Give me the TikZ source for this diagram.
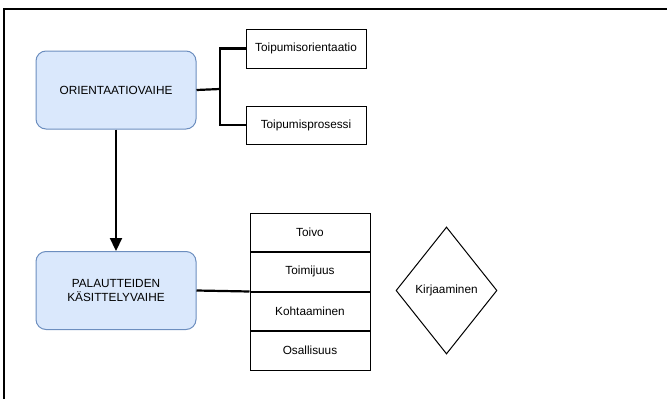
\documentclass[tikz,border=0pt]{standalone}
\usepackage{fontspec}
\setmainfont{Liberation Sans}
\usetikzlibrary{shapes.geometric,arrows.meta}
\definecolor{bluefill}{HTML}{DAE8FC}
\definecolor{bluedraw}{HTML}{6C8EBF}
\begin{document}
\begin{tikzpicture}[x=1pt,y=-1pt,
  txt/.style={font=\fontsize{11.8}{14.5}\selectfont},
  phase/.style={txt,draw=bluedraw,fill=bluefill,rounded corners=10pt,minimum width=160pt,minimum height=78pt,align=center,line width=1pt},
  sub/.style={txt,draw,fill=white,minimum width=120pt,minimum height=38.5pt,line width=1pt},
  conn/.style={line width=2.2pt}]
\useasboundingbox (0,0) rectangle (667,399);
\clip (0,0) rectangle (667,399);
\draw[line width=1.5pt] (4,9) rectangle (690,420);
\node[phase] (orient) at (116,90) {ORIENTAATIOVAIHE};
\node[phase] (pal) at (116,290.5) {PALAUTTEIDEN\\KÄSITTELYVAIHE};
\node[sub,minimum height=39pt] (to) at (306,48.5) {Toipumisorientaatio};
\node[sub,minimum height=38pt] (tp) at (306,125) {Toipumisprosessi};
\node[sub] (r1) at (310,232.25) {Toivo};
\node[sub,anchor=north] (r2) at (r1.south) {Toimijuus};
\node[sub,anchor=north] (r3) at (r2.south) {Kohtaaminen};
\node[sub,anchor=north] (r4) at (r3.south) {Osallisuus};
\node[txt,diamond,draw,line width=1pt,minimum width=101pt,minimum height=127pt,inner sep=0pt] (kir) at (446.5,290.5) {Kirjaaminen};
\coordinate (j) at (220,89);
\draw[conn] (orient.east) -- (j);
\draw[conn] (j) |- (to.west);
\draw[conn] (j) |- (tp.west);
\draw[conn,-{Triangle[width=12pt,length=13pt]}] (orient.south) -- (pal.north);
\draw[conn] (pal.east) -- (r2.south west);
\end{tikzpicture}
\end{document}
